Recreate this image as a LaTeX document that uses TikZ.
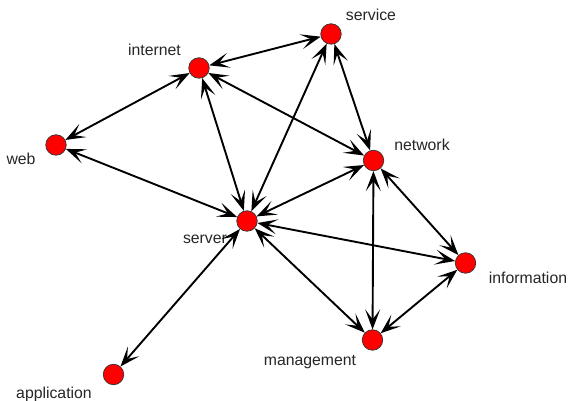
\documentclass[tikz,border=0pt]{standalone}
\usepackage{fontspec}
\setmainfont{Liberation Sans}
\usetikzlibrary{arrows.meta}
\begin{document}
\begin{tikzpicture}[x=1pt,y=1pt,
  vert/.style={circle,draw=black!80,line width=0.7pt,fill=red,minimum size=20.5pt,inner sep=0pt},
  lbl/.style={inner sep=0pt,font=\fontsize{15.8}{18}\selectfont,text=black!85},
  link/.style={line width=1.9pt,{Stealth[length=20pt,width=15pt,inset=10pt,line width=1.6pt]}-{Stealth[length=20pt,width=15pt,inset=10pt,line width=1.6pt]}}]
\useasboundingbox (0,0) rectangle (568,401);
\node[vert] (service) at (331,367) {};
\node[vert] (internet) at (199,333) {};
\node[vert] (web) at (56,256) {};
\node[vert] (network) at (373.5,240.5) {};
\node[vert] (server) at (247,180) {};
\node[vert] (information) at (465.5,138) {};
\node[vert] (management) at (372.5,61) {};
\node[vert] (application) at (113.5,26.5) {};
\node[lbl] (lservice) at (371,386) {service};
\node[lbl] (linternet) at (154.5,351) {internet};
\node[lbl] (lweb) at (21,242) {web};
\node[lbl] (lnetwork) at (422,256) {network};
\node[lbl] (lserver) at (205,162) {server};
\node[lbl] (linformation) at (528,123) {information};
\node[lbl] (lmanagement) at (310,39) {management};
\node[lbl] (lapplication) at (54,7) {application};
\draw[link] (internet) -- (service);
\draw[link] (internet) -- (web);
\draw[link] (internet) -- (server);
\draw[link] (internet) -- (network);
\draw[link] (service) -- (server);
\draw[link] (service) -- (network);
\draw[link] (web) -- (server);
\draw[link] (server) -- (network);
\draw[link] (server) -- (information);
\draw[link] (server) -- (management);
\draw[link] (server) -- (application);
\draw[link] (network) -- (management);
\draw[link] (network) -- (information);
\draw[link] (information) -- (management);
\end{tikzpicture}
\end{document}
